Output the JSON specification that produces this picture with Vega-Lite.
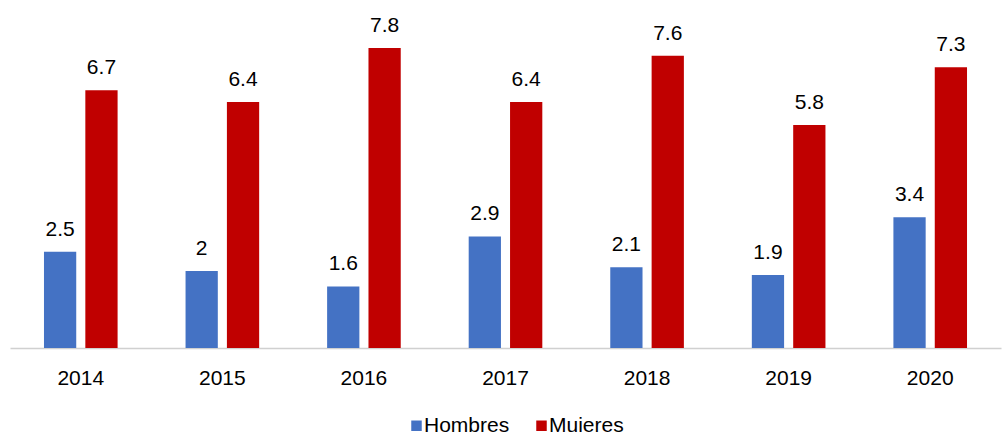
{
  "$schema": "https://vega.github.io/schema/vega-lite/v6.json",
  "width": 991,
  "height": 348,
  "autosize": "none",
  "padding": {"left": 10, "top": 0, "right": 1, "bottom": 84},
  "background": "white",
  "config": {
    "font": "Liberation Sans",
    "view": {"stroke": null}
  },
  "data": {
    "values": [
      {"year": "2014", "sexo": "Hombres", "v": 2.5},
      {"year": "2014", "sexo": "Mujeres", "v": 6.7},
      {"year": "2015", "sexo": "Hombres", "v": 2},
      {"year": "2015", "sexo": "Mujeres", "v": 6.4},
      {"year": "2016", "sexo": "Hombres", "v": 1.6},
      {"year": "2016", "sexo": "Mujeres", "v": 7.8},
      {"year": "2017", "sexo": "Hombres", "v": 2.9},
      {"year": "2017", "sexo": "Mujeres", "v": 6.4},
      {"year": "2018", "sexo": "Hombres", "v": 2.1},
      {"year": "2018", "sexo": "Mujeres", "v": 7.6},
      {"year": "2019", "sexo": "Hombres", "v": 1.9},
      {"year": "2019", "sexo": "Mujeres", "v": 5.8},
      {"year": "2020", "sexo": "Hombres", "v": 3.4},
      {"year": "2020", "sexo": "Mujeres", "v": 7.3}
    ]
  },
  "encoding": {
    "x": {
      "field": "year", "type": "nominal",
      "scale": {"paddingInner": 0.48, "paddingOuter": 0.24},
      "axis": {
        "title": null, "labelAngle": 0, "labelFontSize": 21, "labelColor": "#000000",
        "labelPadding": 19, "ticks": false, "domainColor": "#d0d0d0", "domainWidth": 1.5, "grid": false
      }
    },
    "xOffset": {"field": "sexo", "type": "nominal", "scale": {"paddingInner": 0.22, "paddingOuter": 0}},
    "y": {
      "field": "v", "type": "quantitative",
      "scale": {"domain": [0, 9.05], "nice": false},
      "axis": null
    }
  },
  "layer": [
    {
      "mark": {"type": "bar"},
      "encoding": {
        "color": {
          "field": "sexo", "type": "nominal",
          "scale": {"domain": ["Hombres", "Mujeres"], "range": ["#4472C4", "#C00000"]},
          "legend": {
            "title": null, "orient": "none", "legendX": 396, "legendY": 415,
            "direction": "horizontal", "symbolType": "square", "symbolSize": 110,
            "labelFontSize": 21, "labelColor": "#000000", "columnPadding": 21, "labelOffset": -3
          }
        }
      }
    },
    {
      "mark": {"type": "text", "baseline": "alphabetic", "dy": -16, "fontSize": 21, "color": "#000000"},
      "encoding": {"text": {"field": "v", "type": "quantitative"}}
    }
  ]
}
